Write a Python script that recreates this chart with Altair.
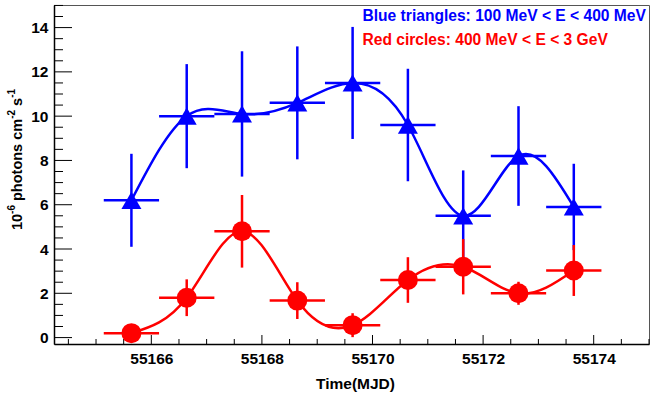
import altair as alt
import pandas as pd

# ---- data ----
time_mjd = [55165.64, 55166.64, 55167.64, 55168.64, 55169.64,
            55170.64, 55171.64, 55172.64, 55173.64]
time_err = [0.5] * 9

blue_flux = [6.2, 10.0, 10.1, 10.6, 11.5, 9.6, 5.5, 8.2, 5.9]
blue_err = [2.1, 2.35, 2.83, 2.55, 2.53, 2.54, 2.05, 2.25, 1.95]

red_flux = [0.2, 1.8, 4.8, 1.67, 0.56, 2.6, 3.2, 2.0, 3.03]
red_err = [0.3, 0.83, 1.64, 0.83, 0.54, 1.03, 1.25, 0.52, 1.15]

x_major = [55166, 55168, 55170, 55172, 55174]
x_minor = [55164.5 + 0.5 * i for i in range(22) if (55164.5 + 0.5 * i) not in x_major]
y_major = [0, 2, 4, 6, 8, 10, 12, 14]
y_minor = [0.5 * i for i in range(31) if (0.5 * i) not in y_major]

BLUE = "#0000ff"
RED = "#ff0000"
FONT = "Liberation Sans"
W, H = 595, 339

def frame(flux, err):
    return pd.DataFrame({
        "t": time_mjd, "v": flux,
        "lo": [f - e for f, e in zip(flux, err)],
        "hi": [f + e for f, e in zip(flux, err)],
        "tlo": [t - e for t, e in zip(time_mjd, time_err)],
        "thi": [t + e for t, e in zip(time_mjd, time_err)],
    })

blue = frame(blue_flux, blue_err)
red = frame(red_flux, red_err)

xs = alt.Scale(domain=[55164.24, 55175.0], nice=False, zero=False)
ys = alt.Scale(domain=[-0.29, 15.02], nice=False, zero=False)

x_axis = alt.Axis(values=x_major, format="d", grid=False, ticks=False,
                  labelFont=FONT, labelFontSize=15.5, labelFontWeight="bold",
                  labelColor="black", labelPadding=7,
                  domainColor="black", domainWidth=1.5,
                  title="Time(MJD)", titleFont=FONT, titleFontSize=15.5,
                  titleFontWeight="bold", titleColor="black",
                  titleX=301, titleY=44, titleBaseline="alphabetic",
                  titleAlign="center")
y_axis = alt.Axis(values=y_major, format="d", grid=False, ticks=False,
                  labelFont=FONT, labelFontSize=15.5, labelFontWeight="bold",
                  labelColor="black", labelPadding=6,
                  domainColor="black", domainWidth=1.5, title="")

def series(df, color, shape):
    base = alt.Chart(df)
    curve = base.mark_line(color=color, strokeWidth=2.5, interpolate="natural").encode(
        x=alt.X("t:Q", scale=xs, axis=x_axis), y=alt.Y("v:Q", scale=ys, axis=y_axis))
    vbar = base.mark_rule(color=color, strokeWidth=2.5).encode(
        x="t:Q", y="lo:Q", y2="hi:Q")
    hbar = base.mark_rule(color=color, strokeWidth=2.5).encode(
        x="tlo:Q", x2="thi:Q", y="v:Q")
    pts = base.mark_point(shape=shape, filled=True, color=color, size=400, opacity=1).encode(
        x="t:Q", y="v:Q")
    return [curve, vbar, hbar, pts]

xmaj = alt.Chart(pd.DataFrame({"t": x_major})).mark_rule(color="black", strokeWidth=1).encode(
    x=alt.X("t:Q", scale=xs), y=alt.value(H), y2=alt.value(H - 9))
xmin = alt.Chart(pd.DataFrame({"t": x_minor})).mark_rule(color="black", strokeWidth=1).encode(
    x=alt.X("t:Q", scale=xs), y=alt.value(H), y2=alt.value(H - 5))
ymaj = alt.Chart(pd.DataFrame({"v": y_major})).mark_rule(color="black", strokeWidth=1).encode(
    y=alt.Y("v:Q", scale=ys), x=alt.value(0), x2=alt.value(18))
ymin = alt.Chart(pd.DataFrame({"v": y_minor})).mark_rule(color="black", strokeWidth=1).encode(
    y=alt.Y("v:Q", scale=ys), x=alt.value(0), x2=alt.value(9))

def text(s, x, y, size, color, angle=0):
    kw = dict(font=FONT, fontSize=size, fontWeight="bold", color=color,
              align="left", baseline="alphabetic")
    if angle:
        kw["angle"] = angle
    return alt.Chart(pd.DataFrame({"s": [s]})).mark_text(**kw).encode(
        text="s:N", x=alt.value(x), y=alt.value(y))

legend = [
    text("Blue triangles: 100 MeV < E < 400 MeV", 308.5, 16.3, 15.6, BLUE),
    text("Red circles: 400 MeV < E < 3 GeV", 308.5, 40.2, 15.6, RED),
]

# y-axis title "10^-6 photons cm^-2 s^-1" built from pieces (rotated)
XB, XS = -32.5, -39.0
ytitle = [
    text("10", XB, 225.0, 14.5, "black", 270),
    text("-6", XS, 208.9, 10, "black", 270),
    text("photons cm", XB, 196.0, 14.5, "black", 270),
    text("-2", XS, 113.8, 10, "black", 270),
    text("s", XB, 100.9, 14.5, "black", 270),
    text("-1", XS, 92.8, 10, "black", 270),
]

layers = [xmaj, xmin, ymaj, ymin] + series(blue, BLUE, "triangle-up") + \
    series(red, RED, "circle") + legend + ytitle

chart = alt.layer(*layers).properties(
    width=W, height=H,
    autosize=alt.AutoSizeParams(type="none"),
    padding={"left": 54, "top": 5, "right": 1, "bottom": 49},
    background="white",
).configure_view(stroke="#555555", strokeWidth=1)

chart.save("out.html", embed_options={"renderer": "svg", "actions": False})
